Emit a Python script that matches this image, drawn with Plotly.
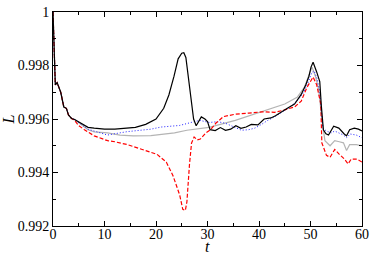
import plotly.graph_objects as go

# ---- data ----
t_black = [0, 0.15, 0.3, 0.45, 0.8, 1.1, 1.5, 2.1, 2.6, 3.0, 3.6, 4.2, 5.5, 6.8, 8, 10, 12, 14, 16, 18, 20,
           21.5, 22.5, 23.5, 24.3, 25.0, 25.4, 25.8, 26.3, 26.8, 27.3, 27.8, 28.3, 28.8, 29.5, 30.0, 30.5,
           31.5, 32.5, 33.5, 34.5, 35.5, 36.5, 37.5, 38.5, 39.8, 41, 42.3, 43.2, 44.4, 45.5, 46.9, 48.2,
           49.1, 49.7, 50.1, 50.5, 51.2, 51.8, 52.1, 52.5, 53.0, 53.5, 54.5, 55.5, 56.5, 57.0, 57.6, 58.5,
           59.3, 60]
L_black = [1.0, 0.9990, 0.9978, 0.99728, 0.99736, 0.99721, 0.99700, 0.99645, 0.99640, 0.99615, 0.99602,
           0.99598, 0.99584, 0.99569, 0.99566, 0.99562, 0.99562, 0.99565, 0.99569, 0.99580, 0.99600,
           0.99640, 0.99690, 0.99760, 0.99825, 0.99846, 0.99848, 0.99830, 0.99760, 0.99670, 0.99600,
           0.99575, 0.99590, 0.99608, 0.99600, 0.99590, 0.99560, 0.99557, 0.99568, 0.99558, 0.99562,
           0.99575, 0.99565, 0.99570, 0.99580, 0.99578, 0.99600, 0.99604, 0.99612, 0.99628, 0.99640,
           0.99656, 0.99692, 0.99728, 0.99760, 0.99794, 0.99812, 0.99776, 0.99740, 0.99650, 0.99560,
           0.99545, 0.99540, 0.99573, 0.99566, 0.99545, 0.99537, 0.99560, 0.99566, 0.99562, 0.99555]

t_blue = [0, 0.15, 0.3, 0.45, 0.8, 1.1, 1.5, 2.1, 2.6, 3.0, 3.6, 4.2, 5.5, 6.8, 8, 9.5, 10.6, 12, 14.5,
          17, 19, 21, 24.6, 27, 28.5, 30.3, 32, 33.5, 34.7, 36.6, 38, 39.2, 40.5, 41.7, 43.2, 44.4, 46,
          47.5, 48.7, 49.6, 50.3, 50.7, 51.3, 51.8, 52.4, 53.1, 54.0, 54.7, 55.6, 56.4, 57.0, 57.7, 58.9, 60]
L_blue = [1.0, 0.9990, 0.9978, 0.99728, 0.99736, 0.99721, 0.99700, 0.99645, 0.99640, 0.99615, 0.99602,
          0.99598, 0.99580, 0.99562, 0.99555, 0.99545, 0.99540, 0.99545, 0.99553, 0.99558, 0.99562,
          0.99570, 0.99576, 0.99588, 0.99595, 0.99587, 0.99590, 0.99584, 0.99573, 0.99558, 0.99560,
          0.99566, 0.99580, 0.99595, 0.99610, 0.99625, 0.99645, 0.99670, 0.99700, 0.99740, 0.99775,
          0.99780, 0.99750, 0.99700, 0.99566, 0.99555, 0.99548, 0.99555, 0.99548, 0.99540, 0.99530,
          0.99544, 0.99540, 0.99530]

t_grey = [0, 0.15, 0.3, 0.45, 0.8, 1.1, 1.5, 2.1, 2.6, 3.0, 3.6, 4.2, 5.5, 6.8, 8, 10.6, 13, 15.6, 19,
          22, 23.6, 26, 30.3, 35.4, 41.1, 45, 47.4, 48.8, 49.7, 50.3, 51.0, 51.6, 52.2, 52.8, 53.8, 54.7,
          55.6, 56.4, 57.0, 57.6, 58.9, 60]
L_grey = [1.0, 0.9990, 0.9978, 0.99728, 0.99736, 0.99721, 0.99700, 0.99645, 0.99640, 0.99615, 0.99602,
          0.99598, 0.99580, 0.99560, 0.99552, 0.99548, 0.99540, 0.99537, 0.99538, 0.99544, 0.99548,
          0.99558, 0.99569, 0.99595, 0.99631, 0.99656, 0.99681, 0.99718, 0.99765, 0.99794, 0.99757,
          0.99710, 0.99600, 0.99519, 0.99500, 0.99519, 0.99515, 0.99511, 0.99482, 0.99504, 0.99504, 0.99500]

t_red = [0, 0.15, 0.3, 0.45, 0.8, 1.1, 1.5, 2.1, 2.6, 3.0, 3.6, 4.2, 5.0, 6.1, 8, 10.6, 12, 14.5, 17.5,
         20.2, 22, 23.3, 24.6, 25.2, 25.7, 26.0, 26.5, 26.9, 27.4, 28.0, 28.6, 29.7, 30.6, 31.6, 33.1,
         35.4, 38, 40.6, 43, 44.4, 46.9, 48.2, 49.3, 50.5, 51.2, 52.0, 52.2, 53.1, 53.8, 54.7, 55.6,
         56.6, 57.3, 57.9, 59.0, 60]
L_red = [1.0, 0.9990, 0.9978, 0.99728, 0.99736, 0.99721, 0.99700, 0.99645, 0.99640, 0.99615, 0.99602,
         0.99595, 0.99575, 0.99560, 0.99537, 0.99519, 0.99515, 0.99504, 0.99486, 0.99468, 0.99439,
         0.99388, 0.99316, 0.99262, 0.99258, 0.99290, 0.99430, 0.99510, 0.99533, 0.99522, 0.99525,
         0.99548, 0.99560, 0.99584, 0.99609, 0.99618, 0.99622, 0.99627, 0.99625, 0.99631, 0.99645,
         0.99667, 0.99718, 0.99757, 0.99728, 0.99656, 0.99511, 0.99464, 0.99457, 0.99486, 0.99468,
         0.99450, 0.99432, 0.99450, 0.99450, 0.99439]

x_ticks = [0, 10, 20, 30, 40, 50, 60]
y_ticks = [0.992, 0.994, 0.996, 0.998, 1.0]
y_ticktext = ["0.992", "0.994", "0.996", "0.998", "1"]

fig = go.Figure()
fig.add_trace(go.Scatter(x=t_grey, y=L_grey, mode="lines",
                         line=dict(color="#b4b4b4", width=1.2), showlegend=False))
fig.add_trace(go.Scatter(x=t_blue, y=L_blue, mode="lines",
                         line=dict(color="#2020ff", width=1, dash="1px,2px"), showlegend=False))
fig.add_trace(go.Scatter(x=t_red, y=L_red, mode="lines",
                         line=dict(color="#ff0000", width=1.2, dash="4px,2px"), showlegend=False))
fig.add_trace(go.Scatter(x=t_black, y=L_black, mode="lines",
                         line=dict(color="#000000", width=1.2), showlegend=False))

serif = "Liberation Serif, Times New Roman, DejaVu Serif, serif"
font = dict(family=serif, size=14, color="black")
axis_common = dict(showgrid=False, zeroline=False, showline=True, linecolor="black", linewidth=1,
                   mirror="allticks", ticks="inside", ticklen=5, tickcolor="black", tickwidth=1,
                   tickfont=font, ticklabeloverflow="allow")

fig.update_layout(
    width=374, height=254,
    margin=dict(l=51, r=8, t=5, b=28),
    paper_bgcolor="white", plot_bgcolor="white",
    font=font,
    xaxis=dict(range=[0, 60], tickvals=x_ticks, ticklabelstandoff=-5,
               minor=dict(dtick=5, tick0=0, ticks="inside", ticklen=3, tickcolor="black"),
               **axis_common),
    yaxis=dict(range=[0.992, 1.000001], tickvals=y_ticks, ticktext=y_ticktext,
               minor=dict(dtick=0.001, tick0=0.992, ticks="inside", ticklen=3, tickcolor="black"),
               title=dict(text="<i>L</i>", font=dict(family=serif, size=16), standoff=2),
               **axis_common),
    annotations=[dict(text="<i>t</i>", xref="paper", yref="paper", x=0.5, y=-0.14,
                      xanchor="center", yanchor="bottom", showarrow=False, borderpad=0,
                      font=dict(family=serif, size=16, color="black"))],
)

fig.write_html("out.html", config={"displayModeBar": False},
               post_script="document.body.style.margin='0';document.body.style.padding='0';")
